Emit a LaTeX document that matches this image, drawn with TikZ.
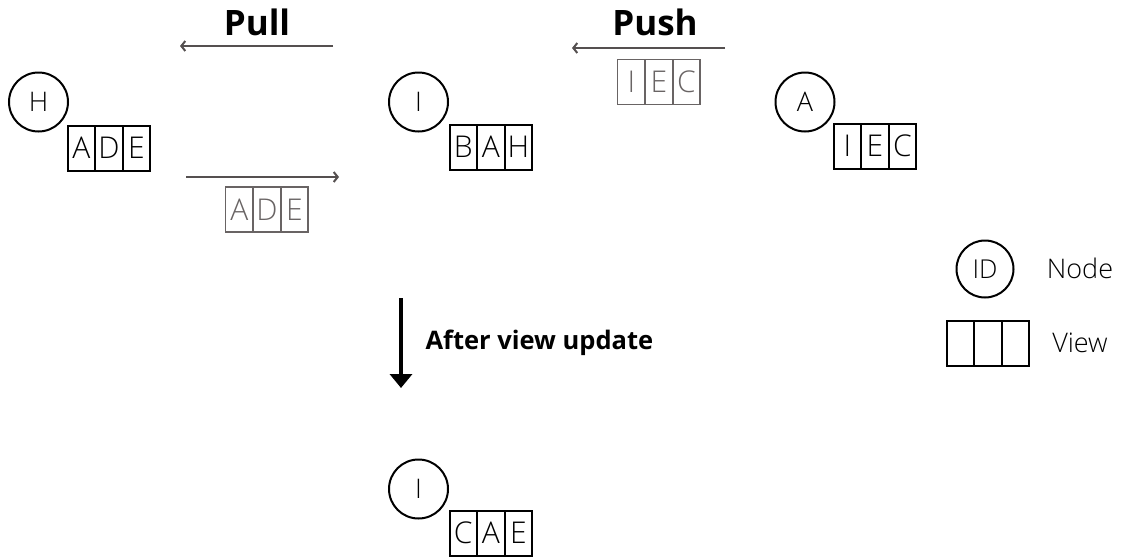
\documentclass[tikz,border=0pt]{standalone}
\usepackage{fontspec}
\setmainfont{Open Sans}
\newfontfamily\lightf{Open Sans}[UprightFont=* Light]
\usetikzlibrary{arrows.meta}
\definecolor{gline}{RGB}{85,80,80}
\definecolor{gbox}{RGB}{105,100,100}
\tikzset{
  peer/.style={circle,draw,line width=2pt,minimum size=59pt,inner sep=0pt,font=\lightf\fontsize{27}{27}\selectfont},
  cell/.style={draw,line width=2pt,minimum width=27.6pt,minimum height=45pt,inner sep=0pt,outer sep=0pt,font=\lightf\fontsize{30}{30}\selectfont},
  gcell/.style={cell,draw=gbox,text=gbox,line width=1.7pt},
  garrow/.style={draw=gline,line width=2pt,-{Straight Barb[length=4pt,width=10pt,line width=2pt]}},
  title/.style={font=\fontsize{35}{35}\selectfont\bfseries},
  lbl/.style={font=\lightf\fontsize{27}{27}\selectfont}
}
\newcommand{\viewbox}[6][cell]{%
  \node[#1,anchor=north west] (#2a) at (#3) {#4};
  \node[#1,anchor=west] (#2b) at (#2a.east) {#5};
  \node[#1,anchor=west] (#2c) at (#2b.east) {#6};}
\begin{document}
\begin{tikzpicture}[x=1pt,y=-1pt]
\useasboundingbox (0,0) rectangle (1122,557);
% peers
\node[peer] (H) at (38.5,102) {H};
\viewbox{hv}{67.5,125.5}{A}{D}{E}
\node[peer] (I) at (418.5,102) {I};
\viewbox{iv}{449.5,124.5}{B}{A}{H}
\node[peer] (Ap) at (805,102) {A};
\viewbox{av}{833.5,123.5}{I}{E}{C}
% pull
\node[title] (pull) at (257,22) {Pull};
\coordinate (pullS) at (333,46);
\coordinate (pullE) at (180,46);
\draw[garrow] (pullS) -- (pullE);
\coordinate (retS) at (186,177);
\coordinate (retE) at (339,177);
\draw[garrow] (retS) -- (retE);
\viewbox[gcell]{rv}{225.5,187}{A}{D}{E}
% push
\node[title] (push) at (655,22) {Push};
\coordinate (pushS) at (725,48);
\coordinate (pushE) at (572,48);
\draw[garrow] (pushS) -- (pushE);
\viewbox[gcell]{pv}{617.5,59.5}{I}{E}{C}
% after update
\coordinate (dS) at (401,298);
\coordinate (dE) at (401,388);
\draw[line width=4pt,-{Triangle[length=14pt,width=22pt]}] (dS) -- (dE);
\node[font=\fontsize{25.5}{25.5}\selectfont\bfseries,anchor=west] (upd) at (422,343) {After view update};
\node[peer] (I2) at (418.5,489) {I};
\viewbox{cv}{449.5,510.5}{C}{A}{E}
% legend
\node[peer,minimum size=57pt,font=\lightf\fontsize{26}{26}\selectfont] (lid) at (985,269) {ID};
\node[lbl] (lnode) at (1080,268) {Node};
\viewbox{lv}{946.5,321}{}{}{}
\node[lbl] (lview) at (1080,343) {View};
\end{tikzpicture}
\end{document}
